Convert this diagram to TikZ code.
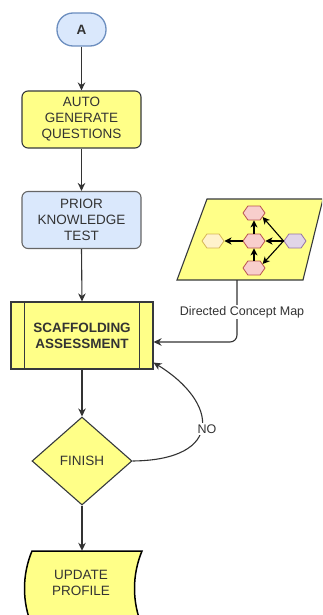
\documentclass[tikz,border=0pt]{standalone}
\usepackage{fontspec}
\setmainfont{Liberation Sans}
\usetikzlibrary{shapes.geometric,shapes.symbols,arrows.meta}
\definecolor{ylw}{HTML}{FFFF88}
\definecolor{dk}{HTML}{36393D}
\definecolor{blu}{HTML}{DAE8FC}
\definecolor{bluline}{HTML}{6C8EBF}
\definecolor{gry}{HTML}{666666}
\definecolor{txt}{HTML}{333333}
\definecolor{pinkf}{HTML}{F8CECC}
\definecolor{pinkd}{HTML}{B85450}
\definecolor{ylf}{HTML}{FFF2CC}
\definecolor{yld}{HTML}{D6B656}
\definecolor{purf}{HTML}{E1D5E7}
\definecolor{purd}{HTML}{9673A6}
\tikzset{
  base/.style={font=\fontsize{13.5}{16}\selectfont, text=txt, align=center, inner sep=0pt},
  term/.style={base, draw=bluline, fill=blu, line width=1.3pt, rounded corners=16pt, minimum width=49pt, minimum height=33pt},
  proc/.style={base, line width=1.1pt, rounded corners=6pt, minimum width=119pt, minimum height=57pt},
  scaffbox/.style={base, draw=dk, fill=ylw, line width=1.1pt, minimum width=142pt, minimum height=67pt},
  dia/.style={base, diamond, draw=dk, fill=ylw, line width=1.1pt, minimum width=100pt, minimum height=88pt, aspect=1.136},
  conn/.style={draw=txt, line width=1.1pt, -{Stealth[length=8pt,width=7.5pt,inset=2.5pt]}},
  smallconn/.style={draw=black, line width=1.1pt, -{Stealth[length=7pt,width=7pt,inset=2pt]}},
  hexa/.style={signal, signal to=east and west, signal pointer angle=110, minimum width=22pt, minimum height=14pt, inner sep=0pt, line width=0.8pt},
  lbl/.style={font=\fontsize{12.5}{14}\selectfont, text=txt, fill=white, inner sep=1.5pt}
}
\begin{document}
\begin{tikzpicture}[x=1pt,y=-1pt]
\useasboundingbox (0,0) rectangle (322,615);
\clip (0,0) rectangle (322,615);

% main nodes
\node[term] (a) at (81.5,29.5) {\bfseries A};
\node[proc, draw=dk, fill=ylw] (gen) at (81.5,119.5) {AUTO\\GENERATE\\QUESTIONS};
\node[proc, draw=gry, fill=blu] (pk) at (81.5,220) {PRIOR\\KNOWLEDGE\\TEST};
\node[scaffbox] (sc) at (82,335.5) {\bfseries SCAFFOLDING\\\bfseries ASSESSMENT};
\draw[dk, line width=1.1pt] ([xshift=14pt]sc.north west) -- ([xshift=14pt]sc.south west);
\draw[dk, line width=1.1pt] ([xshift=-14pt]sc.north east) -- ([xshift=-14pt]sc.south east);
\node[dia] (fin) at (82,461) {FINISH};

% update profile (stored data shape)
\draw[black, fill=ylw, line width=1.5pt]
  (32,551) -- (142,551) .. controls (132,575) and (132,602) .. (142,626)
  -- (32,626) .. controls (22,602) and (22,575) .. (32,551) -- cycle;
\node[base, minimum height=64pt, minimum width=100pt] (up) at (81,583) {UPDATE\\PROFILE};

% concept map parallelogram
\draw[dk, fill=ylw, line width=1.1pt] (207,199) -- (323,199) -- (303,280) -- (177,280) -- cycle;
\coordinate (cmapout) at (237,280);
\node[hexa, draw=pinkd, fill=pinkf] (ht) at (254,213) {};
\node[hexa, draw=pinkd, fill=pinkf] (hc) at (254,241) {};
\node[hexa, draw=pinkd, fill=pinkf] (hb) at (254,268) {};
\node[hexa, draw=yld, fill=ylf] (hl) at (213,241) {};
\node[hexa, draw=purd, fill=purf] (hr) at (295,241) {};
\draw[smallconn] (hc.west) -- (hl.east);
\draw[smallconn] (hr.west) -- (hc.east);
\draw[smallconn] (hr.west) -- (ht.-25);
\draw[smallconn] (hr.west) -- (hb.25);
\draw[smallconn] (hc.north) -- (ht.south);
\draw[smallconn] (hb.north) -- (hc.south);

% connectors
\draw[conn] (a.south) -- (gen.north);
\draw[conn] (gen.south) -- (pk.north);
\draw[conn] (pk.south) -- (sc.north);
\draw[conn] (sc.south) -- (fin.north);
\draw[conn] (fin.south) -- (fin.south |- up.north);
\draw[conn, rounded corners=7pt] (cmapout) |- ([yshift=-6.5pt]sc.east);
\node[lbl] (cmlbl) at (242,312) {Directed Concept Map};
\draw[conn] (fin.east) .. controls (225,460) and (218,402) .. ([yshift=7pt]sc.south east);
\node[lbl] (nolbl) at (207,429) {NO};
\end{tikzpicture}
\end{document}
